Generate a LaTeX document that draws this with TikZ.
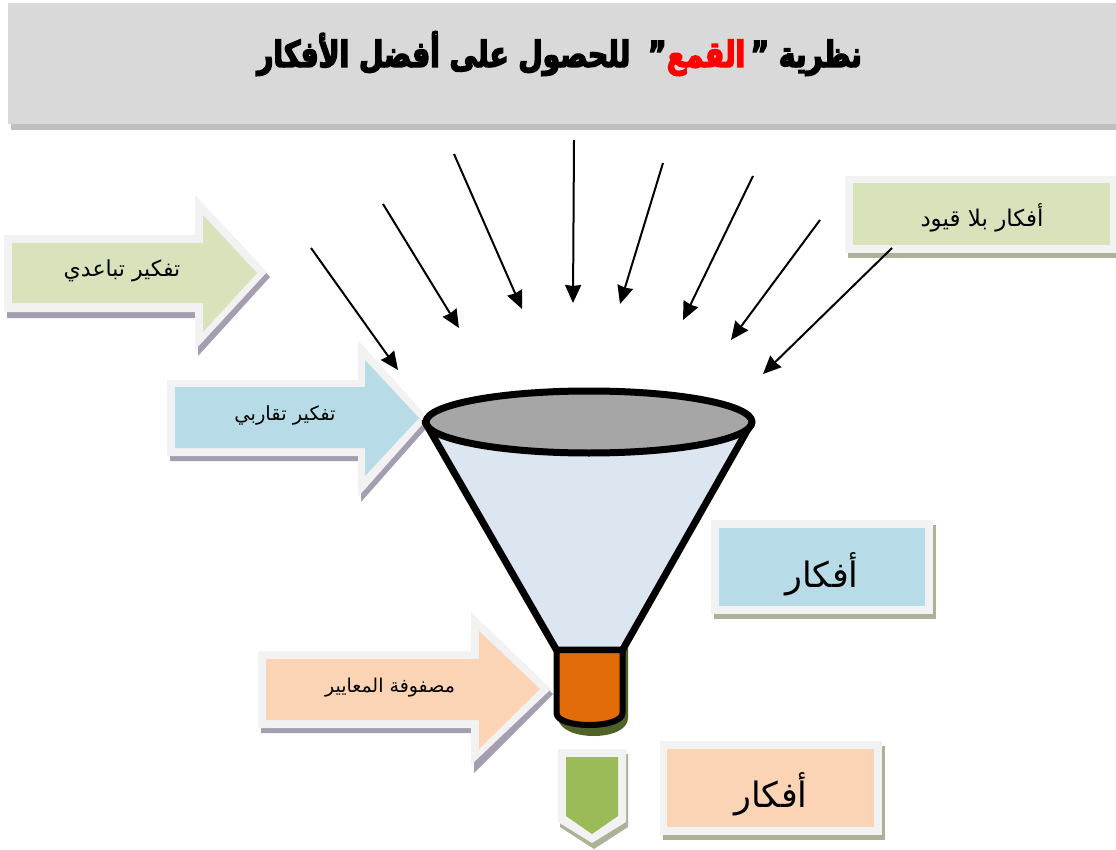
\documentclass[tikz,border=0pt]{standalone}
\usepackage{fontspec}
\usetikzlibrary{arrows.meta}
\TeXXeTstate=1
\newfontfamily\arabicfont[Script=Arabic]{DejaVu Sans}
\newfontfamily\titlefont[Script=Arabic,BoldFeatures={FakeBold=4,FakeStretch=0.78}]{DejaVu Sans}
\definecolor{frameGrey}{HTML}{F2F2F2}
\definecolor{titleGrey}{HTML}{D9D9D9}
\definecolor{titleShadow}{HTML}{BFBFBF}
\definecolor{purpleShadow}{HTML}{A59DB0}
\definecolor{oliveShadow}{HTML}{ABB297}
\definecolor{greenFill}{HTML}{D8E3BC}
\definecolor{blueFill}{HTML}{B7DCE8}
\definecolor{peachFill}{HTML}{FBD4B5}
\definecolor{coneFill}{HTML}{DCE6F1}
\definecolor{mouthFill}{HTML}{A6A6A6}
\definecolor{spoutFill}{HTML}{E36C0A}
\definecolor{spoutShadow}{HTML}{4F6228}
\definecolor{downFill}{HTML}{9BBB59}
\tikzset{
  x=1pt,y=-1pt,
  inflow/.style={draw=black,line width=2pt,-{Stealth[length=18pt,width=16pt,inset=1pt]}},
  funnelline/.style={draw=black,line width=7pt,line join=round},
  spoutline/.style={draw=black,line width=6pt,line join=round},
  label/.style={inner sep=0pt,text=black},
  titlepart/.style={inner sep=0pt,font=\titlefont\fontsize{36}{36}\selectfont\bfseries},
}
\begin{document}
\begin{tikzpicture}
\useasboundingbox (0,0) rectangle (1116,850);
% title band
\fill[titleShadow] (11,10) rectangle (1116,130);
\fill[titleGrey] (8,3) rectangle (1116,124);
\node[titlepart,anchor=base east,text=black] (titleA) at (862,67) {\beginR نظرية ”\endR};
\node[titlepart,anchor=base east,text=red] (titleB) at ([xshift=-5pt]titleA.base west) {\beginR القمع\endR};
\node[titlepart,anchor=base east,text=black] (titleC) at (titleB.base west) {\beginR ”\hspace{8pt} للحصول على أفضل الأفكار\endR};
% arrow: divergent
\fill[purpleShadow] (7,240)--(198,240)--(198,200)--(270,277)--(198,356)--(198,318)--(7,318)--cycle;
\fill[frameGrey] (4,235)--(195,235)--(195,195)--(267,272)--(195,350)--(195,312)--(4,312)--cycle;
\fill[greenFill] (12,243)--(203,243)--(203,215)--(257,273)--(203,332)--(203,303)--(12,303)--cycle;
\node[label] (divergent) at (122,271) {\arabicfont\fontsize{22}{22}\selectfont\beginR تفكير تباعدي\endR};
% arrow: convergent
\fill[purpleShadow] (170,385)--(361,385)--(361,345)--(431,423)--(361,502)--(361,461)--(170,461)--cycle;
\fill[frameGrey] (167,380)--(358,380)--(358,340)--(428,418)--(358,497)--(358,456)--(167,456)--cycle;
\fill[blueFill] (175,387)--(365,387)--(365,360)--(419,418)--(365,476)--(365,448)--(175,448)--cycle;
\node[label] (convergent) at (285,415) {\arabicfont\fontsize{19.5}{20}\selectfont\beginR تفكير تقاربي\endR};
% arrow: criteria matrix
\fill[purpleShadow] (261,656)--(474,656)--(474,617)--(553,694)--(474,773)--(474,733)--(261,733)--cycle;
\fill[frameGrey] (258,651)--(471,651)--(471,612)--(551,689)--(471,765)--(471,728)--(258,728)--cycle;
\fill[peachFill] (266,659)--(479,659)--(479,631)--(540,689)--(479,749)--(479,720)--(266,720)--cycle;
\node[label] (criteria) at (390,688) {\arabicfont\fontsize{19}{20}\selectfont\beginR مصفوفة المعايير\endR};
% box: ideas without limits
\fill[oliveShadow] (848,181) rectangle (1116,258);
\fill[frameGrey] (845,176) rectangle (1116,253);
\fill[greenFill] (853,183) rectangle (1110,245);
\node[label] (free) at (982,218) {\arabicfont\fontsize{23}{23}\selectfont\beginR أفكار بلا قيود\endR};
% box: ideas (blue)
\fill[oliveShadow] (714,525) rectangle (936,619);
\fill[frameGrey] (711,520) rectangle (933,614);
\fill[blueFill] (719,528) rectangle (925,606);
\node[label] (ideasA) at (822,574) {\arabicfont\fontsize{35}{35}\selectfont\beginR أفكار\endR};
% box: ideas (peach)
\fill[oliveShadow] (663,746) rectangle (885,840);
\fill[frameGrey] (660,741) rectangle (882,835);
\fill[peachFill] (667,749) rectangle (874,827);
\node[label] (ideasB) at (771,794) {\arabicfont\fontsize{35}{35}\selectfont\beginR أفكار\endR};
% funnel
\fill[spoutShadow] (560,640)--(628,640)--(628,718) .. controls (628,742) and (560,742) .. (558,718)--cycle;
\path[funnelline,fill=coneFill] (425,422)--(556.5,650)--(622.5,650)--(752,422)--cycle;
\path[spoutline,fill=spoutFill] (556.5,650)--(622.5,650)--(622.5,713) .. controls (622.5,729) and (556.5,729) .. (556.5,713)--cycle;
\path[funnelline,fill=mouthFill] (589,422) ellipse [x radius=163,y radius=31];
% down arrow
\fill[oliveShadow] (560,754)--(628,754)--(628,827)--(594,849)--(560,827)--cycle;
\fill[frameGrey] (558,749)--(626,749)--(626,822)--(592,843)--(558,822)--cycle;
\fill[downFill] (566,757)--(618,757)--(618,816)--(592,834)--(566,816)--cycle;
% inflow arrows
\coordinate (s1) at (311,248); \coordinate (e1) at (398,370);
\coordinate (s2) at (383,204); \coordinate (e2) at (459,328);
\coordinate (s3) at (454,154); \coordinate (e3) at (522,309);
\coordinate (s4) at (574,140); \coordinate (e4) at (573,303);
\coordinate (s5) at (663,163); \coordinate (e5) at (620,304);
\coordinate (s6) at (753,176); \coordinate (e6) at (683,320);
\coordinate (s7) at (820,220); \coordinate (e7) at (731,340);
\coordinate (s8) at (892,248); \coordinate (e8) at (763,374);
\draw[inflow] (s1)--(e1);
\draw[inflow] (s2)--(e2);
\draw[inflow] (s3)--(e3);
\draw[inflow] (s4)--(e4);
\draw[inflow] (s5)--(e5);
\draw[inflow] (s6)--(e6);
\draw[inflow] (s7)--(e7);
\draw[inflow] (s8)--(e8);
\end{tikzpicture}
\end{document}
